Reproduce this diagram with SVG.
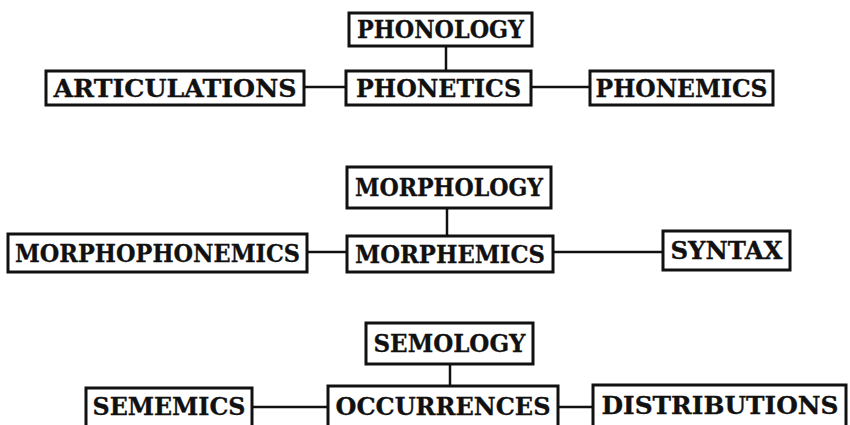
<svg xmlns="http://www.w3.org/2000/svg" width="850" height="425" viewBox="0 0 850 425">
<style>
.box{fill:#fff;stroke:#111;stroke-width:3}
.lbl{font-family:"DejaVu Serif","Liberation Serif",serif;font-weight:bold;font-size:24px;fill:#111;stroke:#111;stroke-width:0.3;text-anchor:middle}
.conn{stroke:#111;stroke-width:2.5;fill:none}
</style>
<rect width="850" height="425" fill="#fff"/>
<g id="connectors">
<line class="conn" x1="446" y1="46" x2="446" y2="71"/>
<line class="conn" x1="304" y1="87" x2="346" y2="87"/>
<line class="conn" x1="531" y1="87" x2="590" y2="87"/>
<line class="conn" x1="447" y1="208" x2="447" y2="236"/>
<line class="conn" x1="307" y1="252" x2="347" y2="252"/>
<line class="conn" x1="553" y1="252" x2="663" y2="252"/>
<line class="conn" x1="450" y1="364" x2="450" y2="386"/>
<line class="conn" x1="252" y1="407" x2="328" y2="407"/>
<line class="conn" x1="558" y1="407" x2="593" y2="407"/>
</g>
<g id="phonology"><rect class="box" x="349" y="13" width="183" height="33"/><text class="lbl" x="440.5" y="38" textLength="167" lengthAdjust="spacingAndGlyphs">PHONOLOGY</text></g>
<g id="articulations"><rect class="box" x="46" y="71" width="258" height="34"/><text class="lbl" x="175" y="97" textLength="243" lengthAdjust="spacingAndGlyphs">ARTICULATIONS</text></g>
<g id="phonetics"><rect class="box" x="346" y="71" width="185" height="34"/><text class="lbl" x="438.5" y="97" textLength="165" lengthAdjust="spacingAndGlyphs">PHONETICS</text></g>
<g id="phonemics"><rect class="box" x="590" y="71" width="183" height="34"/><text class="lbl" x="681.5" y="97" textLength="172" lengthAdjust="spacingAndGlyphs">PHONEMICS</text></g>
<g id="morphology"><rect class="box" x="347" y="167" width="204" height="41"/><text class="lbl" x="449" y="196" textLength="188" lengthAdjust="spacingAndGlyphs">MORPHOLOGY</text></g>
<g id="morphophonemics"><rect class="box" x="8" y="234" width="299" height="38"/><text class="lbl" x="157.5" y="262" textLength="285" lengthAdjust="spacingAndGlyphs">MORPHOPHONEMICS</text></g>
<g id="morphemics"><rect class="box" x="347" y="236" width="206" height="36"/><text class="lbl" x="450" y="263" textLength="190" lengthAdjust="spacingAndGlyphs">MORPHEMICS</text></g>
<g id="syntax"><rect class="box" x="663" y="231" width="127" height="39"/><text class="lbl" x="726.5" y="259" textLength="112" lengthAdjust="spacingAndGlyphs">SYNTAX</text></g>
<g id="semology"><rect class="box" x="366" y="323" width="167" height="41"/><text class="lbl" x="449.5" y="352" textLength="152" lengthAdjust="spacingAndGlyphs">SEMOLOGY</text></g>
<g id="sememics"><rect class="box" x="86" y="388" width="166" height="50"/><text class="lbl" x="169" y="415" textLength="153" lengthAdjust="spacingAndGlyphs">SEMEMICS</text></g>
<g id="occurrences"><rect class="box" x="328" y="386" width="230" height="50"/><text class="lbl" x="443" y="415" textLength="215" lengthAdjust="spacingAndGlyphs">OCCURRENCES</text></g>
<g id="distributions"><rect class="box" x="593" y="385" width="253" height="50"/><text class="lbl" x="720" y="414" textLength="237" lengthAdjust="spacingAndGlyphs">DISTRIBUTIONS</text></g>
</svg>
